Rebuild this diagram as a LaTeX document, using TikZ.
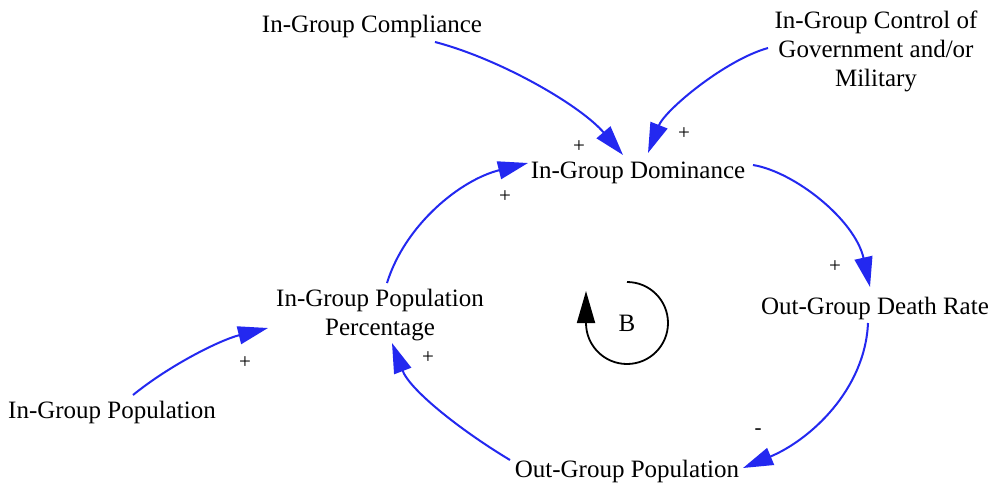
\documentclass[tikz,border=0pt]{standalone}
\usepackage{fontspec}
\setmainfont{Liberation Serif}
\usetikzlibrary{arrows.meta}
\definecolor{linkblue}{RGB}{35,40,240}
\begin{document}
\begin{tikzpicture}[x=1pt,y=-1pt,
  var/.style={inner sep=0pt,font=\fontsize{25}{29}\selectfont,align=center},
  pol/.style={inner sep=0pt,font=\fontsize{21}{24}\selectfont},
  link/.style={draw=linkblue,line width=2pt,-{Triangle[length=30pt,width=18pt]},fill=none},
  loopline/.style={draw=black,line width=1.8pt,-{Triangle[length=32pt,width=18pt]}}]
\useasboundingbox[fill=white] (0,0) rectangle (995,487);

\node[var] (comp) at (372,26) {In-Group Compliance};
\node[var] (ctrl) at (876,51) {In-Group Control of\\Government and/or\\Military};
\node[var] (dom) at (638,173) {In-Group Dominance};
\node[var] (death) at (875,308) {Out-Group Death Rate};
\node[var] (perc) at (380,315) {In-Group Population\\Percentage};
\node[var] (inpop) at (112,412) {In-Group Population};
\node[var] (outpop) at (627,471) {Out-Group Population};
\node[var] (B) at (627,323) {B};

% links
\draw[link] ([shift={(63,16)}]comp.center) .. controls +(65,17) and +(-43,-50) .. ([shift={(-15,-18)}]dom.center);
\draw[link] ([shift={(-108,-3)}]ctrl.center) .. controls +(-43,12) and +(17,-43) .. ([shift={(10,-20)}]dom.center);
\draw[link] ([shift={(115,-8)}]dom.center) .. controls +(42,7) and +(-15,-67) .. ([shift={(-5,-21)}]death.center);
\draw[link] ([shift={(-7,15)}]death.center) .. controls +(-3,67) and +(67,-28) .. ([shift={(116,-3)}]outpop.center);
\draw[link] ([shift={(-117,-11)}]outpop.center) .. controls +(-50,-30) and +(18,47) .. ([shift={(12,28)}]perc.center);
\draw[link] ([shift={(7,-32)}]perc.center) .. controls +(18,-58) and +(-68,17) .. ([shift={(-110,-10)}]dom.center);
\draw[link] ([shift={(21,-17)}]inpop.center) .. controls +(37,-30) and +(-48,12) .. ([shift={(-112,13)}]perc.center);

% polarities
\node[pol] (p1) at (579,147) {+};
\node[pol] (p2) at (684,134) {+};
\node[pol] (p3) at (505,197) {+};
\node[pol] (p4) at (835,267) {+};
\node[pol] (p5) at (758,432) {-};
\node[pol] (p6) at (428,358) {+};
\node[pol] (p7) at (245,363) {+};

% loop marker
\draw[loopline] (B.center) ++(0,-41) arc[start angle=-90,end angle=180,radius=41] -- ++(0,-32);
\end{tikzpicture}
\end{document}
